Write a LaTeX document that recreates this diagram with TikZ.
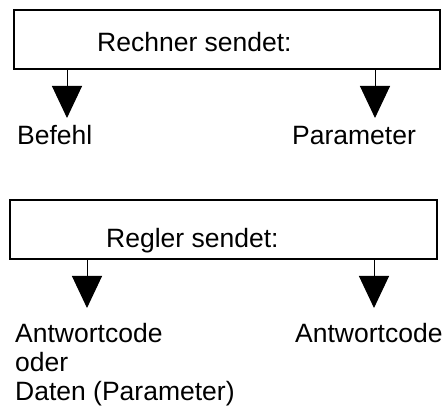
\documentclass[tikz,border=0pt]{standalone}
\usepackage{fontspec}
\setmainfont{Liberation Sans}
\usetikzlibrary{arrows.meta, positioning}

\begin{document}
\begin{tikzpicture}[
        x=1pt, y=-1pt,
        >={Triangle[width=30pt,length=32pt]},
        every node/.style={font=\fontsize{26.5}{29}\selectfont, inner sep=0pt},
        kasten/.style={draw, line width=1.4pt, minimum width=#1, minimum height=59pt},
        pfeil/.style={->, line width=1pt}
    ]
    \useasboundingbox (0,0) rectangle (445,406);

    % Draw boxes
    \node[kasten=426pt] (rechner) at (227,39.5) {};
    \node[anchor=base west] (rechnertext) at (97,52) {Rechner sendet:};

    \node[kasten=427pt] (regler) at (223.5,229.5) {};
    \node[anchor=base west] (reglertext) at (106,248) {Regler sendet:};

    % Arrow ends
    \coordinate (z1) at (67,118);
    \coordinate (z2) at (375,118);
    \coordinate (z3) at (87,308);
    \coordinate (z4) at (374,308);

    % Draw arrows
    \draw[pfeil] (rechner.south -| z1) -- (z1);
    \draw[pfeil] (rechner.south -| z2) -- (z2);
    \draw[pfeil] (regler.south -| z3) -- (z3);
    \draw[pfeil] (regler.south -| z4) -- (z4);

    % Labels
    \node[anchor=base west] (befehl) at (17,145) {Befehl};
    \node[anchor=base west] (parameter) at (292,145) {Parameter};
    \node[anchor=base west] (antwort) at (15,343)
        {\begin{tabular}[t]{@{}l@{}}Antwortcode\\oder\\Daten (Parameter)\end{tabular}};
    \node[anchor=base west] (antwort2) at (295,343) {Antwortcode};

\end{tikzpicture}
\end{document}
